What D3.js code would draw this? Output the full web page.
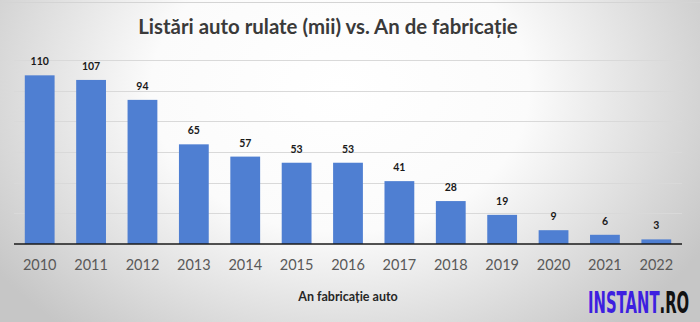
<!DOCTYPE html>
<html>
<head>
<meta charset="utf-8">
<script src="https://cdn.jsdelivr.net/npm/d3@7"></script>
<style>
  html, body { margin: 0; padding: 0; background: #fff; }
  svg { display: block; }
</style>
</head>
<body>
<svg id="chart" width="700" height="322"></svg>
<script>
// Listings of used cars (thousands) by manufacturing year
const years = ["2010","2011","2012","2013","2014","2015","2016","2017","2018","2019","2020","2021","2022"];
const listings = [110, 107, 94, 65, 57, 53, 53, 41, 28, 19, 9, 6, 3];
const gridTicks = [20, 40, 60, 80, 100, 120];

const W = 700, H = 322;
const margin = { left: 14, right: 18, top: 60, bottom: 78 };
const svg = d3.select("#chart");

// Background: light centre fading to grey at the edges
const defs = svg.append("defs");
const grad = defs.append("radialGradient")
  .attr("id", "bg")
  .attr("gradientUnits", "userSpaceOnUse")
  .attr("cx", 340).attr("cy", 90).attr("r", 420)
  .attr("gradientTransform", "translate(340,90) scale(1,0.75) translate(-340,-90)");
grad.append("stop").attr("offset", "0%").attr("stop-color", "#ffffff");
grad.append("stop").attr("offset", "45%").attr("stop-color", "#fbfbfb");
grad.append("stop").attr("offset", "100%").attr("stop-color", "#c6c6c6");

svg.append("rect").attr("width", W).attr("height", H).attr("fill", "url(#bg)");
svg.append("line").attr("x1", 0).attr("x2", W).attr("y1", 2.5).attr("y2", 2.5)
  .attr("stroke", "#d4d4d4").attr("stroke-width", 1);

const x = d3.scaleBand().domain(years)
  .range([margin.left, W - margin.right]).paddingInner(0.42).paddingOuter(0.21);
const y = d3.scaleLinear().domain([0, 120]).range([H - margin.bottom, margin.top]);

// Horizontal gridlines
svg.append("g").selectAll("line").data(gridTicks).join("line")
  .attr("x1", margin.left).attr("x2", W - margin.right)
  .attr("y1", d => Math.round(y(d)) + 0.5).attr("y2", d => Math.round(y(d)) + 0.5)
  .attr("stroke", "#d9d9d9").attr("stroke-width", 1);

// Bars
svg.append("g").selectAll("rect").data(listings).join("rect")
  .attr("x", (d, i) => x(years[i]))
  .attr("width", x.bandwidth())
  .attr("y", d => y(d))
  .attr("height", d => y(0) - y(d))
  .attr("fill", "#4f7fd2");

// Value labels
svg.append("g").selectAll("text").data(listings).join("text")
  .attr("x", (d, i) => x(years[i]) + x.bandwidth() / 2)
  .attr("y", d => y(d) - 10)
  .attr("text-anchor", "middle")
  .attr("font-family", "Lato, 'Open Sans', sans-serif")
  .attr("font-weight", 700)
  .attr("font-size", 10.5)
  .attr("fill", "#1a1a1a")
  .text(d => d);

// Category axis
const xAxis = svg.append("g")
  .attr("transform", `translate(0,${y(0)})`)
  .call(d3.axisBottom(x).tickSize(0).tickPadding(16));
xAxis.select(".domain").attr("stroke", "#1a1a1a").attr("stroke-width", 1.6)
  .attr("d", `M${margin.left},0H${W - margin.right}`);
xAxis.selectAll("text")
  .attr("font-family", "Lato, 'Open Sans', sans-serif")
  .attr("font-size", 14.5)
  .attr("fill", "#595959");

// Title
svg.append("text")
  .attr("x", 328).attr("y", 34)
  .attr("text-anchor", "middle")
  .attr("font-family", "Lato, 'Open Sans', sans-serif")
  .attr("font-weight", 700)
  .attr("font-size", 20.4)
  .attr("fill", "#3a3a3a")
  .text("Listări auto rulate (mii) vs. An de fabricație");

// Axis title
svg.append("text")
  .attr("x", 348).attr("y", 301)
  .attr("text-anchor", "middle")
  .attr("font-family", "Lato, 'Open Sans', sans-serif")
  .attr("font-weight", 700)
  .attr("font-size", 12.5)
  .attr("fill", "#262626")
  .text("An fabricație auto");

// Site mark, squeezed horizontally into a condensed look
const logoLeft = 588, logoWidth = 99;
const logo = svg.append("text")
  .attr("font-family", "'DejaVu Sans', sans-serif")
  .attr("font-weight", 700)
  .attr("font-size", 28);
logo.append("tspan").attr("fill", "#3d1fe0").text("INSTANT");
logo.append("tspan").attr("fill", "#111111").text(".RO");
const natural = logo.node().getComputedTextLength();
logo.attr("transform", `translate(${logoLeft},313) scale(${logoWidth / natural},1.1)`);
</script>
</body>
</html>
